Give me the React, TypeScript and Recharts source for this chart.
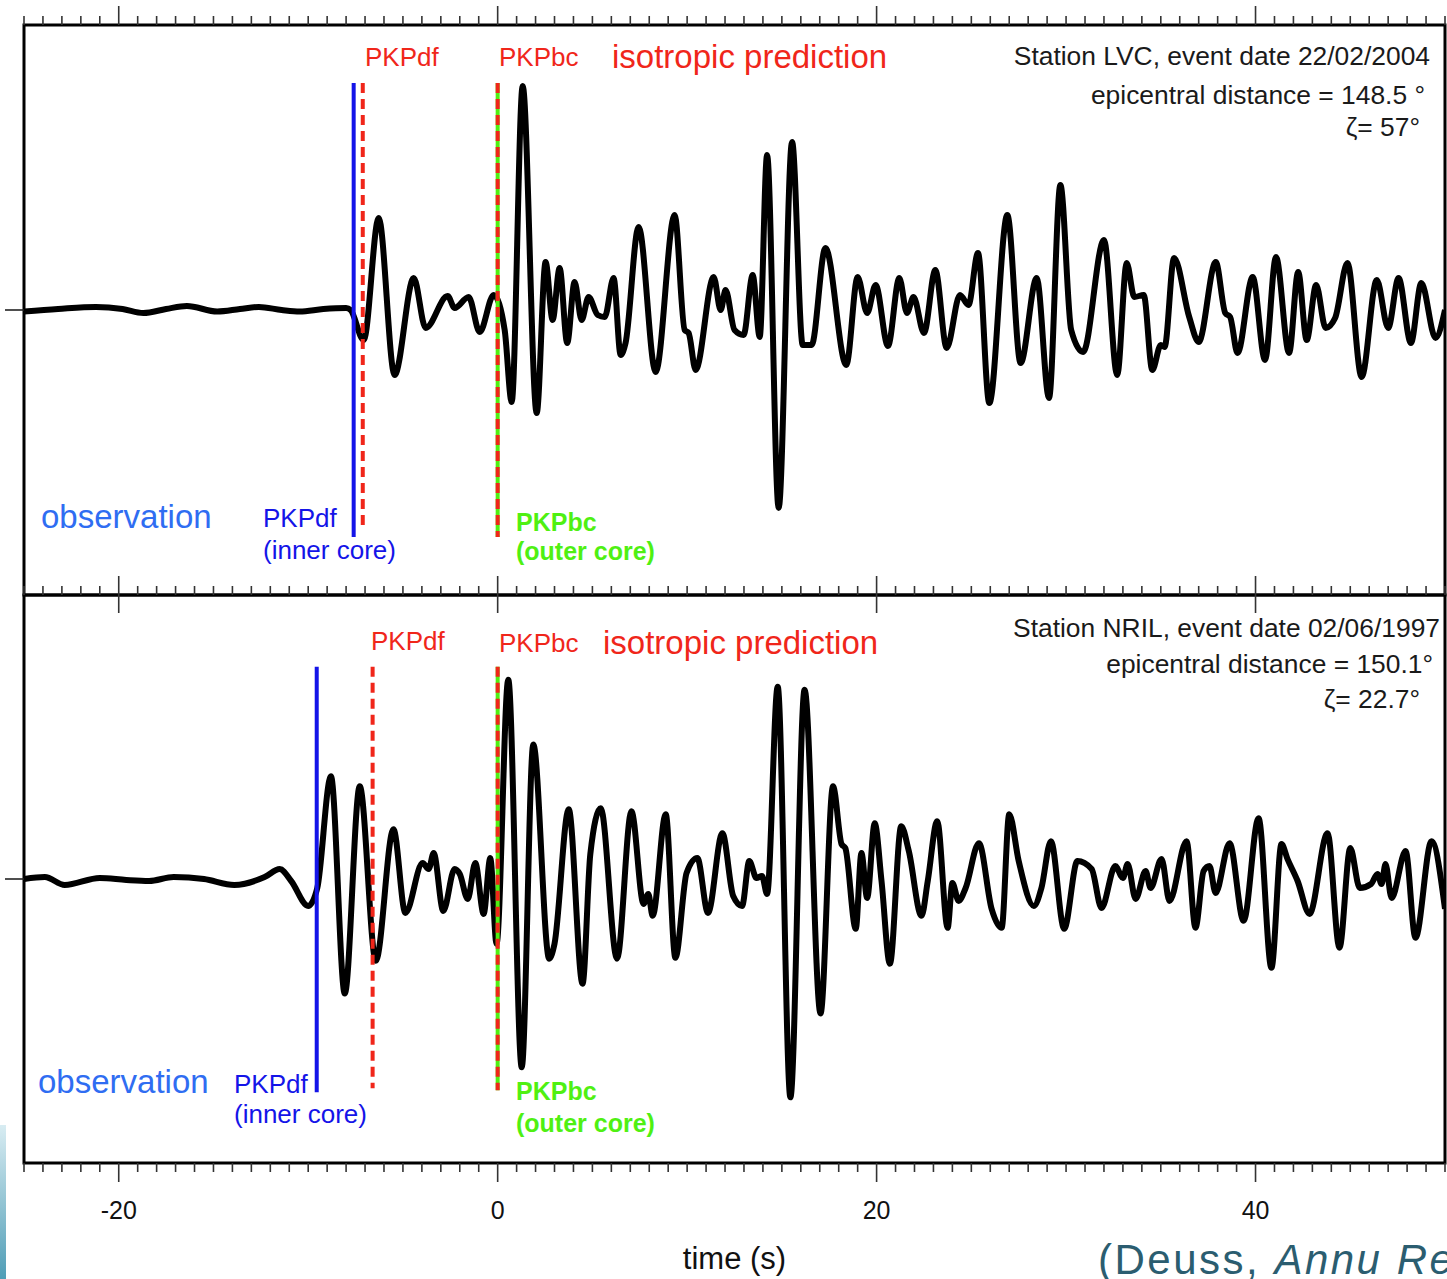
import { LineChart, Line, XAxis, YAxis, ReferenceLine, ReferenceArea } from 'recharts'

const FONT = '"Liberation Sans", Arial, Helvetica, sans-serif'
const T_MIN = -25
const T_MAX = 50
const AMP = 285

// one tick per second, labels every 20 s
const minorTicks = Array.from({ length: T_MAX - T_MIN + 1 }, (_, i) => T_MIN + i)
const majorTicks = [-20, 0, 20, 40]

// Station LVC, 22/02/2004: [time (s), amplitude]
const lvcTrace: [number, number][] = [
  [-25, -1.5], [-23.2, 1], [-21.2, 3], [-19.8, 1], [-18.7, -3], [-17.5, 1], [-16.4, 4], [-14.8, -1.5],
  [-13.6, 1], [-12.6, 3], [-11.4, 0], [-10.45, -1.5], [-9.2, 1], [-8.0, 2], [-7.76, 0], [-7.07, -30],
  [-6.28, 92], [-5.44, -65], [-4.43, 32], [-3.8, -18], [-2.64, 14], [-2.27, 2], [-1.53, 13], [-0.95, -22],
  [-0.21, 15], [0.37, -20], [0.74, -92], [1.32, 224], [2.06, -103], [2.53, 48], [2.9, -10], [3.27, 42],
  [3.67, -33], [4.06, 28], [4.43, -10], [4.8, 13], [5.28, -5], [5.65, -7], [6.12, 32], [6.49, -45],
  [6.75, -33], [7.44, 83], [8.34, -62], [9.34, 95], [9.87, -20], [10.08, -23], [10.45, -60], [11.4, 33],
  [11.77, 0], [12.03, 20], [12.5, -20], [12.98, -25], [13.46, 35], [13.83, -27], [14.22, 155], [14.83, -198],
  [15.54, 168], [16.1, -35], [16.57, -35], [17.3, 62], [18.4, -55], [19.0, 33], [19.5, -3], [19.95, 25],
  [20.6, -36], [21.2, 32], [21.6, -3], [21.95, 13], [22.5, -23], [23.1, 40], [23.7, -38], [24.4, 15],
  [24.85, 5], [25.35, 57], [25.95, -93], [26.9, 95], [27.6, -53], [28.45, 32], [29.1, -88], [29.7, 125],
  [30.27, -20], [30.9, -42], [32.0, 70], [32.7, -65], [33.2, 47], [33.6, 13], [34.1, 15], [34.55, -60],
  [35.0, -35], [35.2, -37], [35.7, 52], [36.5, -7], [37.0, -32], [37.9, 48], [38.4, -3], [38.66, -7],
  [39.05, -43], [39.85, 33], [40.5, -50], [41.08, 53], [41.77, -43], [42.25, 38], [42.7, -30], [43.2, 25],
  [43.7, -18], [44.2, -8], [44.85, 47], [45.6, -67], [46.4, 30], [47.0, -18], [47.55, 32], [48.2, -33],
  [48.75, 27], [49.5, -28], [50, 0],
]

// Station NRIL, 02/06/1997: [time (s), amplitude]
const nrilTrace: [number, number][] = [
  [-25, 0], [-23.9, 2], [-22.85, -6], [-21, 1], [-19.6, -1], [-18.4, -2], [-17.1, 2], [-15.5, 0],
  [-13.9, -6], [-12.3, 2], [-11.5, 10], [-10.9, -2], [-10.0, -27], [-9.52, -9], [-8.8, 103], [-8.07, -115],
  [-7.28, 93], [-6.43, -82], [-5.5, 50], [-4.87, -34], [-3.96, 16], [-3.64, 10], [-3.38, 26], [-2.87, -32],
  [-2.27, 10], [-2.0, 5], [-1.58, -20], [-1.18, 16], [-0.74, -35], [-0.39, 21], [-0.06, -65], [0.56, 200],
  [1.27, -189], [1.88, 135], [2.72, -80], [3.0, -65], [3.75, 70], [4.48, -105], [4.89, 25], [5.44, 71],
  [6.3, -80], [7.06, 68], [7.7, -25], [7.95, -15], [8.18, -37], [8.87, 65], [9.38, -79], [9.97, 6],
  [10.54, 21], [11.1, -34], [11.86, 46], [12.43, -17], [12.9, -27], [13.28, 18], [13.66, 1], [13.95, 3],
  [14.22, -15], [14.78, 193], [15.45, -219], [16.2, 190], [17.04, -135], [17.7, 93], [18.15, 35], [18.35, 31],
  [18.9, -50], [19.2, 26], [19.5, -19], [19.9, 56], [20.26, -2], [20.7, -85], [21.3, 53], [21.7, 28],
  [22.37, -37], [22.7, -2], [23.2, 58], [23.75, -49], [24.0, -4], [24.33, -22], [24.7, -9], [25.4, 36],
  [26.07, -30], [26.6, -49], [27.0, 65], [27.5, 18], [28.3, -27], [28.7, -9], [29.2, 38], [29.9, -50],
  [30.6, 18], [31.35, 10], [31.87, -29], [32.6, 13], [33.0, 1], [33.25, 15], [33.67, -20], [34.2, 8],
  [34.46, -9], [35.04, 20], [35.46, -22], [36.36, 38], [36.83, -49], [37.26, 8], [37.57, 13], [37.89, -14],
  [38.63, 36], [39.37, -42], [40.16, 61], [40.84, -89], [41.37, 35], [41.69, 20], [42.22, -2], [42.85, -35],
  [43.8, 46], [44.43, -69], [45.0, 31], [45.5, -9], [46.1, -5], [46.44, 5], [46.65, -5], [46.86, 15],
  [47.18, -19], [47.92, 28], [48.44, -59], [49.29, 38], [50, -30],
]

// arrival markers: [time, top, bottom]
const lvcObservedDf: [number, number, number] = [-7.6, 227, -227]
const lvcPredictedDf: [number, number, number] = [-7.12, 227, -218]
const lvcPredictedBc: [number, number, number] = [0, 227, -227]
const nrilObservedDf: [number, number, number] = [-9.55, 213, -214]
const nrilPredictedDf: [number, number, number] = [-6.6, 213, -210]
const nrilPredictedBc: [number, number, number] = [0, 213, -212]

const RED = '#f0261a'
const BLUE = '#1414e8'
const GREEN = '#4ff012'

const toRows = (trace: [number, number][]) => trace.map(([t, v]) => ({ t, v }))

function TopTick({ x, y, payload, cross }: any) {
  const major = majorTicks.includes(payload.value)
  const up = major ? 19 : 9
  const down = cross && major ? 18 : 0
  return <line x1={x} x2={x} y1={y - up} y2={y + down} stroke="#333" strokeWidth={1.6} />
}

function BottomTick({ x, y, payload }: any) {
  const major = majorTicks.includes(payload.value)
  return (
    <g>
      <line x1={x} x2={x} y1={y} y2={y + (major ? 19 : 9)} stroke="#333" strokeWidth={1.6} />
      {major && (
        <text x={x} y={y + 56} textAnchor="middle" fontSize={25} fill="#111" fontFamily={FONT}>
          {payload.value}
        </text>
      )}
    </g>
  )
}

function markerSegment([t, top, bottom]: [number, number, number]) {
  return [{ x: t, y: top }, { x: t, y: bottom }]
}

function Markers({ axis, observed, predicted, bc }: any) {
  return [
    <ReferenceLine key="bc-g" xAxisId={axis} segment={markerSegment(bc)} stroke={GREEN} strokeWidth={4} />,
    <ReferenceLine key="bc-r" xAxisId={axis} segment={markerSegment(bc)} stroke={RED} strokeWidth={4} strokeDasharray="10 6" />,
    <ReferenceLine key="df-r" xAxisId={axis} segment={markerSegment(predicted)} stroke={RED} strokeWidth={4} strokeDasharray="10 6" />,
    <ReferenceLine key="df-b" xAxisId={axis} segment={markerSegment(observed)} stroke={BLUE} strokeWidth={4} />,
  ]
}

const yAxisProps = {
  yAxisId: 0,
  type: 'number' as const,
  domain: [-AMP, AMP],
  ticks: [0],
  width: 24,
  tickSize: 19,
  axisLine: false,
  tickLine: { stroke: '#222', strokeWidth: 1.6 },
  tickFormatter: () => '',
}

const traceProps = {
  dataKey: 'v',
  type: 'monotone' as const,
  stroke: '#000',
  strokeWidth: 6,
  strokeLinejoin: 'round' as const,
  dot: false,
  isAnimationActive: false,
}

export default function App() {
  const lvc = toRows(lvcTrace)
  const nril = toRows(nrilTrace)

  return (
    <div style={{ position: 'absolute', left: 0, top: 0, width: 1447, height: 1279, overflow: 'hidden', background: '#fff', fontFamily: FONT }}>
      <div style={{ position: 'absolute', left: 0, top: 1125, width: 6, height: 154, background: 'linear-gradient(#d8ecf2, #4f9db6)' }} />

      {/* upper seismogram: LVC */}
      <div style={{ position: 'absolute', left: 0, top: 0 }}>
        <LineChart width={1447} height={600} data={lvc} margin={{ top: 0, right: 2, bottom: 5, left: 0 }}>
          <XAxis
            xAxisId="top"
            orientation="top"
            dataKey="t"
            type="number"
            domain={[T_MIN, T_MAX]}
            allowDataOverflow
            ticks={minorTicks}
            interval={0}
            height={25}
            tickSize={0}
            tickMargin={0}
            axisLine={false}
            tickLine={false}
            tick={(p: any) => <TopTick {...p} />}
          />
          <YAxis {...yAxisProps} />
          <ReferenceArea xAxisId="top" x1={T_MIN} x2={T_MAX} y1={-AMP} y2={AMP} fill="none" stroke="#000" strokeWidth={3} />
          <Line xAxisId="top" {...traceProps} />
          {Markers({ axis: 'top', observed: lvcObservedDf, predicted: lvcPredictedDf, bc: lvcPredictedBc })}
        </LineChart>
      </div>

      {/* lower seismogram: NRIL */}
      <div style={{ position: 'absolute', left: 0, top: 570 }}>
        <LineChart width={1447} height={709} data={nril} margin={{ top: 0, right: 2, bottom: 0, left: 0 }}>
          <XAxis
            xAxisId="top"
            orientation="top"
            dataKey="t"
            type="number"
            domain={[T_MIN, T_MAX]}
            allowDataOverflow
            ticks={minorTicks}
            interval={0}
            height={25}
            tickSize={0}
            tickMargin={0}
            axisLine={false}
            tickLine={false}
            tick={(p: any) => <TopTick {...p} cross />}
          />
          <XAxis
            xAxisId="bottom"
            orientation="bottom"
            dataKey="t"
            type="number"
            domain={[T_MIN, T_MAX]}
            allowDataOverflow
            ticks={minorTicks}
            interval={0}
            height={116}
            tickSize={0}
            tickMargin={0}
            axisLine={false}
            tickLine={false}
            tick={(p: any) => <BottomTick {...p} />}
            label={{ value: 'time (s)', position: 'insideBottom', offset: 10, fill: '#111', fontSize: 31, fontFamily: FONT }}
          />
          <YAxis {...yAxisProps} />
          <ReferenceArea xAxisId="bottom" x1={T_MIN} x2={T_MAX} y1={-AMP} y2={AMP} fill="none" stroke="#000" strokeWidth={3} />
          <Line xAxisId="bottom" {...traceProps} />
          {Markers({ axis: 'bottom', observed: nrilObservedDf, predicted: nrilPredictedDf, bc: nrilPredictedBc })}
        </LineChart>
      </div>

      {/* phase labels and station info */}
      <svg width={1447} height={1279} style={{ position: 'absolute', left: 0, top: 0, pointerEvents: 'none' }} fontFamily={FONT}>
        <g fill={RED}>
          <text x={365} y={66} fontSize={26}>PKPdf</text>
          <text x={499} y={66} fontSize={26}>PKPbc</text>
          <text x={612} y={68} fontSize={33}>isotropic prediction</text>
          <text x={371} y={650} fontSize={26}>PKPdf</text>
          <text x={499} y={652} fontSize={26}>PKPbc</text>
          <text x={603} y={654} fontSize={33}>isotropic prediction</text>
        </g>
        <g fill="#1a1a1a" fontSize={26.4} textAnchor="end">
          <text x={1430} y={65}>Station LVC, event date 22/02/2004</text>
          <text x={1425} y={104}>epicentral distance = 148.5 °</text>
          <text x={1420} y={136}>ζ= 57°</text>
          <text x={1440} y={637}>Station NRIL, event date 02/06/1997</text>
          <text x={1433} y={673}>epicentral distance = 150.1°</text>
          <text x={1420} y={708}>ζ= 22.7°</text>
        </g>
        <g fill="#2f6df2" fontSize={33}>
          <text x={41} y={528}>observation</text>
          <text x={38} y={1093}>observation</text>
        </g>
        <g fill={BLUE} fontSize={26}>
          <text x={263} y={527}>PKPdf</text>
          <text x={263} y={559}>(inner core)</text>
          <text x={234} y={1093}>PKPdf</text>
          <text x={234} y={1123}>(inner core)</text>
        </g>
        <g fill={GREEN} fontSize={25} fontWeight={700}>
          <text x={516} y={531}>PKPbc</text>
          <text x={516} y={560}>(outer core)</text>
          <text x={516} y={1100}>PKPbc</text>
          <text x={516} y={1132}>(outer core)</text>
        </g>
        <text x={1098} y={1274} fontSize={42} fill="#2b5d70" letterSpacing={2.5}>
          (Deuss, <tspan fontStyle="italic">Annu Rev Earth Planet Sci</tspan>)
        </text>
      </svg>
    </div>
  )
}
